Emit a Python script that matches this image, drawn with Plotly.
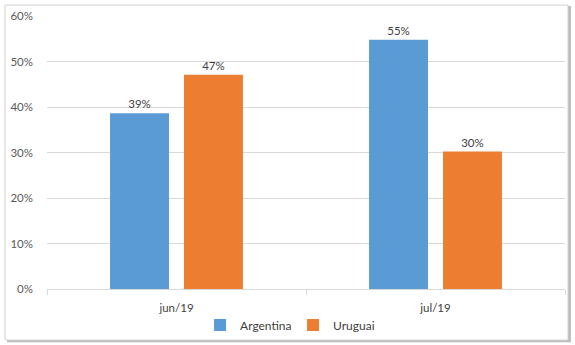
import plotly.graph_objects as go

categories = ["jun/19", "jul/19"]
argentina = [0.386, 0.548]
uruguai = [0.471, 0.302]
y_ticks = [0, 0.1, 0.2, 0.3, 0.4, 0.5, 0.6]
y_tick_labels = ["0%", "10%", "20%", "30%", "40%", "50%", "60%"]

FONT = "Lato, Open Sans, sans-serif"
TXT = "#404040"

fig = go.Figure()
fig.add_trace(go.Bar(name="Argentina", x=categories, y=argentina,
                     marker=dict(color="#5B9BD5", line=dict(width=0)),
                     texttemplate="%{y:.0%}", textposition="outside",
                     textfont=dict(size=11.5, color=TXT, family=FONT), cliponaxis=False))
fig.add_trace(go.Bar(name="Uruguai", x=categories, y=uruguai,
                     marker=dict(color="#ED7D31", line=dict(width=0)),
                     texttemplate="%{y:.0%}", textposition="outside",
                     textfont=dict(size=11.5, color=TXT, family=FONT), cliponaxis=False))

fig.update_layout(
    width=575, height=345,
    margin=dict(l=47, r=10, t=16, b=56, autoexpand=False),
    paper_bgcolor="white", plot_bgcolor="rgba(0,0,0,0)",
    barmode="group", bargap=0.429, bargroupgap=0.203,
    font=dict(family=FONT, size=11, color=TXT),
    showlegend=True,
    legend=dict(orientation="h", x=0.475, xanchor="center",
                yref="container", y=(345 - 325) / 345, yanchor="middle",
                font=dict(size=12, color=TXT, family=FONT), itemwidth=30,
                entrywidth=48, entrywidthmode="pixels",
                bgcolor="rgba(0,0,0,0)"),
    shapes=[
        dict(type="rect", xref="paper", yref="paper", x0=-0.0772, x1=1.0115, y0=1.037, y1=-0.195,
             fillcolor="#bdbdbd", line=dict(width=0), layer="below"),
        dict(type="rect", xref="paper", yref="paper", x0=-0.0811, x1=1.0058, y0=1.040, y1=-0.187,
             fillcolor="white", line=dict(color="#d0d0d0", width=1), layer="below"),
    ],
)
fig.update_yaxes(range=[0, 0.6], tickvals=y_ticks, ticktext=y_tick_labels,
                 showgrid=True, gridcolor="#d9d9d9", gridwidth=1,
                 zeroline=False, showline=False, ticks="", ticklabelstandoff=13,
                 tickfont=dict(size=11.5, color="#595959", family=FONT), automargin=False)
fig.update_xaxes(showgrid=False, showline=True, linecolor="#d9d9d9", linewidth=1,
                 ticks="outside", tickson="boundaries", ticklen=5, tickcolor="#d9d9d9",
                 ticklabelstandoff=8,
                 tickfont=dict(size=11.5, color=TXT, family=FONT), automargin=False)

fig.write_html("out.html")
